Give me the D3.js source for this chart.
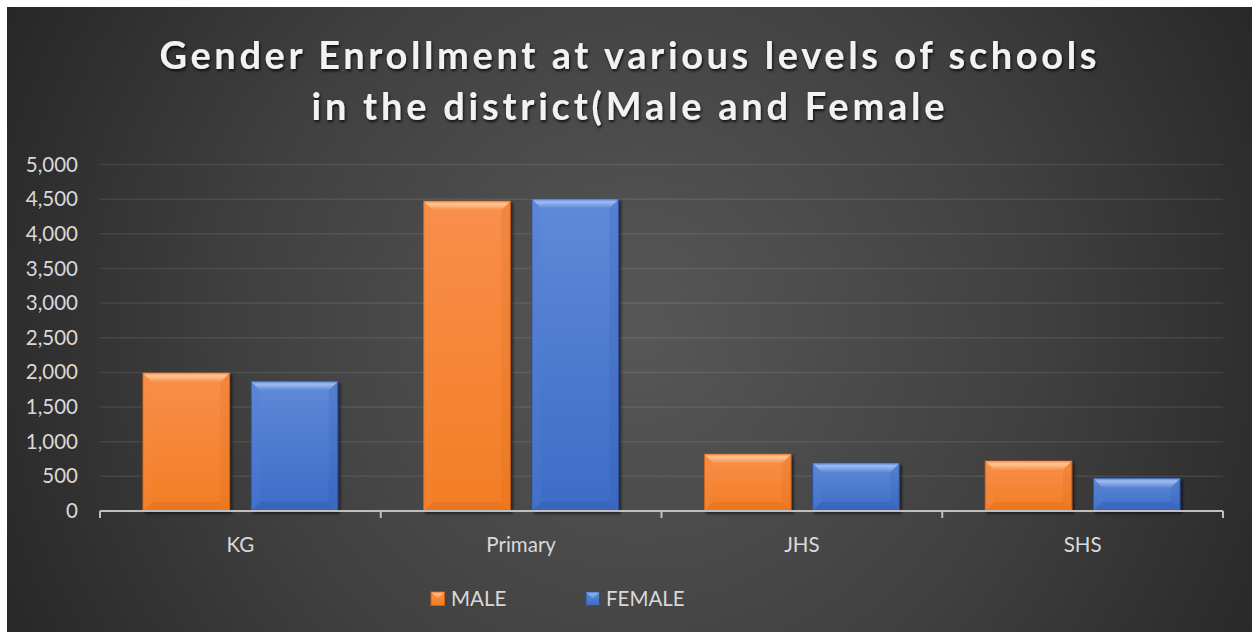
<!DOCTYPE html>
<meta charset="utf-8">
<style>
body { margin: 0; background: #fff; }
text { font-family: Lato, "Open Sans", sans-serif; }
</style>
<svg width="1253" height="633"></svg>
<script src="https://cdn.jsdelivr.net/npm/d3@7"></script>
<script>

// data
var categories = ["KG", "Primary", "JHS", "SHS"];
var series = ["MALE", "FEMALE"];
var male = [1990, 4470, 820, 720];
var female = [1870, 4500, 690, 470];
var yTicks = [0, 500, 1000, 1500, 2000, 2500, 3000, 3500, 4000, 4500, 5000];
var titleLines = ["Gender Enrollment at various levels of schools", "in the district(Male and Female"];

var svg = d3.select("svg"),
    width = +svg.attr("width"),
    height = +svg.attr("height");

var defs = svg.append("defs");

var bg = defs.append("radialGradient")
    .attr("id", "bg")
    .attr("gradientUnits", "userSpaceOnUse")
    .attr("cx", 640).attr("cy", 330).attr("r", 720);
bg.append("stop").attr("offset", 0).attr("stop-color", "#575757");
bg.append("stop").attr("offset", 0.55).attr("stop-color", "#404040");
bg.append("stop").attr("offset", 1).attr("stop-color", "#262626");

var shadow = defs.append("filter").attr("id", "shadow")
    .attr("x", "-10%").attr("y", "-10%").attr("width", "130%").attr("height", "130%");
shadow.append("feDropShadow")
    .attr("dx", 2).attr("dy", 2).attr("stdDeviation", 1.5)
    .attr("flood-color", "#000").attr("flood-opacity", 0.6);

var tshadow = defs.append("filter").attr("id", "tshadow")
    .attr("x", "-5%").attr("y", "-20%").attr("width", "110%").attr("height", "150%");
tshadow.append("feDropShadow")
    .attr("dx", 1).attr("dy", 2).attr("stdDeviation", 1.5)
    .attr("flood-color", "#000").attr("flood-opacity", 0.8);

var colors = {
  MALE:   { top: "#ffc896", face0: "#f98f4b", face1: "#f27d24", side: "#f58a42", bottom: "#d96a18", edge: "#c8601a" },
  FEMALE: { top: "#9dbcf2", face0: "#5f8ad8", face1: "#3d6cc6", side: "#5480d2", bottom: "#2f5aae", edge: "#2a4f9a" }
};

series.forEach(function(s) {
  var g = defs.append("linearGradient").attr("id", "face-" + s)
      .attr("x1", 0).attr("y1", 0).attr("x2", 0).attr("y2", 1);
  g.append("stop").attr("offset", 0).attr("stop-color", colors[s].face0);
  g.append("stop").attr("offset", 1).attr("stop-color", colors[s].face1);
  var t = defs.append("linearGradient").attr("id", "top-" + s)
      .attr("x1", 0).attr("y1", 0).attr("x2", 0).attr("y2", 1);
  t.append("stop").attr("offset", 0).attr("stop-color", colors[s].face0);
  t.append("stop").attr("offset", 0.3).attr("stop-color", colors[s].top);
  t.append("stop").attr("offset", 1).attr("stop-color", colors[s].face0);
});

svg.append("rect")
    .attr("x", 7).attr("y", 7)
    .attr("width", width - 8).attr("height", height - 8)
    .attr("fill", "url(#bg)");

var margin = { left: 100, right: 1223, top: 164.5, bottom: 511 };

var x = d3.scaleBand()
    .domain(categories)
    .range([margin.left, margin.right]);

var x1 = d3.scaleBand()
    .domain(series)
    .range([x.bandwidth() * 0.153, x.bandwidth() * 0.847])
    .paddingInner(0.2);

var y = d3.scaleLinear()
    .domain([0, 5000])
    .range([margin.bottom, margin.top]);

// gridlines
svg.append("g")
    .selectAll("line")
    .data(yTicks.filter(function(d) { return d > 0; }))
    .enter().append("line")
    .attr("x1", margin.left).attr("x2", margin.right)
    .attr("y1", function(d) { return y(d); })
    .attr("y2", function(d) { return y(d); })
    .attr("stroke", "rgba(255,255,255,0.09)")
    .attr("stroke-width", 1.5);

// y axis labels
var yAxis = svg.append("g")
    .attr("transform", "translate(" + margin.left + ",0)")
    .call(d3.axisLeft(y).tickValues(yTicks).tickFormat(d3.format(",")).tickSize(0).tickPadding(22));
yAxis.select(".domain").remove();
yAxis.selectAll("text")
    .attr("fill", "#d9d9d9")
    .style("font-size", "20.5px")
    .style("font-family", "Lato, 'Open Sans', sans-serif");

// bars
var rows = categories.map(function(c, i) {
  return { cat: c, values: [{ s: "MALE", v: male[i] }, { s: "FEMALE", v: female[i] }] };
});

var bars = svg.append("g")
    .selectAll("g")
    .data(rows)
    .enter().append("g")
    .attr("transform", function(d) { return "translate(" + x(d.cat) + ",0)"; })
    .selectAll("g")
    .data(function(d) { return d.values; })
    .enter().append("g")
    .attr("filter", "url(#shadow)");

var bev = 9;

bars.append("rect")
    .attr("x", function(d) { return x1(d.s); })
    .attr("y", function(d) { return y(d.v); })
    .attr("width", x1.bandwidth())
    .attr("height", function(d) { return y(0) - y(d.v); })
    .attr("fill", function(d) { return "url(#face-" + d.s + ")"; })
    .attr("stroke", function(d) { return colors[d.s].edge; })
    .attr("stroke-width", 1);

function bevelPath(d, side) {
  var x0 = x1(d.s), x2 = x0 + x1.bandwidth();
  var y0 = y(d.v), y2 = y(0);
  var b = Math.min(bev, (y2 - y0) / 2);
  if (side === "top") return [[x0, y0], [x2, y0], [x2 - b, y0 + b], [x0 + b, y0 + b]];
  if (side === "left") return [[x0, y0], [x0 + b, y0 + b], [x0 + b, y2 - b], [x0, y2]];
  if (side === "right") return [[x2, y0], [x2 - b, y0 + b], [x2 - b, y2 - b], [x2, y2]];
  return [[x0, y2], [x0 + b, y2 - b], [x2 - b, y2 - b], [x2, y2]];
}

var line = d3.line();

bars.append("path")
    .attr("d", function(d) { return line(bevelPath(d, "left")) + "Z"; })
    .attr("fill", function(d) { return colors[d.s].side; })
    .attr("opacity", 0.25);
bars.append("path")
    .attr("d", function(d) { return line(bevelPath(d, "right")) + "Z"; })
    .attr("fill", function(d) { return colors[d.s].bottom; })
    .attr("opacity", 0.2);
bars.append("path")
    .attr("d", function(d) { return line(bevelPath(d, "bottom")) + "Z"; })
    .attr("fill", function(d) { return colors[d.s].bottom; })
    .attr("opacity", 0.35);
bars.append("path")
    .attr("d", function(d) { return line(bevelPath(d, "top")) + "Z"; })
    .attr("fill", function(d) { return "url(#top-" + d.s + ")"; });

// x axis
var xAxis = svg.append("g")
    .attr("transform", "translate(0," + margin.bottom + ")");
xAxis.append("line")
    .attr("x1", margin.left).attr("x2", margin.right)
    .attr("stroke", "#bfbfbf").attr("stroke-width", 2);
xAxis.selectAll(".tick")
    .data(categories.map(function(c) { return x(c); }).concat([margin.right]))
    .enter().append("line")
    .attr("x1", function(d) { return d; }).attr("x2", function(d) { return d; })
    .attr("y1", 0).attr("y2", 7)
    .attr("stroke", "#bfbfbf").attr("stroke-width", 2);
xAxis.selectAll(".lbl")
    .data(categories)
    .enter().append("text")
    .attr("x", function(d) { return x(d) + x.bandwidth() / 2; })
    .attr("y", 41)
    .attr("text-anchor", "middle")
    .attr("fill", "#d9d9d9")
    .style("font-size", "20.5px")
    .text(function(d) { return d; });

// title
var titleWidths = [937, 633];
svg.append("g")
    .attr("filter", "url(#tshadow)")
    .selectAll("text")
    .data(titleLines)
    .enter().append("text")
    .attr("x", 628)
    .attr("y", function(d, i) { return 69 + i * 51; })
    .attr("text-anchor", "middle")
    .attr("textLength", function(d, i) { return titleWidths[i]; })
    .attr("lengthAdjust", "spacing")
    .attr("fill", "#f2f2f2")
    .style("font-size", "38px")
    .style("font-weight", "bold")
    .text(function(d) { return d; });

// legend
var legendX = [431, 586];
var legend = svg.append("g")
    .selectAll("g")
    .data(series)
    .enter().append("g")
    .attr("transform", function(d, i) { return "translate(" + legendX[i] + ",592)"; });
legend.append("rect")
    .attr("width", 13.5).attr("height", 13.5)
    .attr("fill", function(d) { return "url(#face-" + d + ")"; })
    .attr("stroke", function(d) { return colors[d].edge; });
legend.append("path")
    .attr("d", "M0,0L13.5,0L6.75,6.75Z")
    .attr("fill", function(d) { return "url(#top-" + d + ")"; })
    .attr("opacity", 0.8);
legend.append("text")
    .attr("x", 20)
    .attr("y", 14)
    .attr("fill", "#d9d9d9")
    .style("font-size", "20.5px")
    .text(function(d) { return d; });

</script>
